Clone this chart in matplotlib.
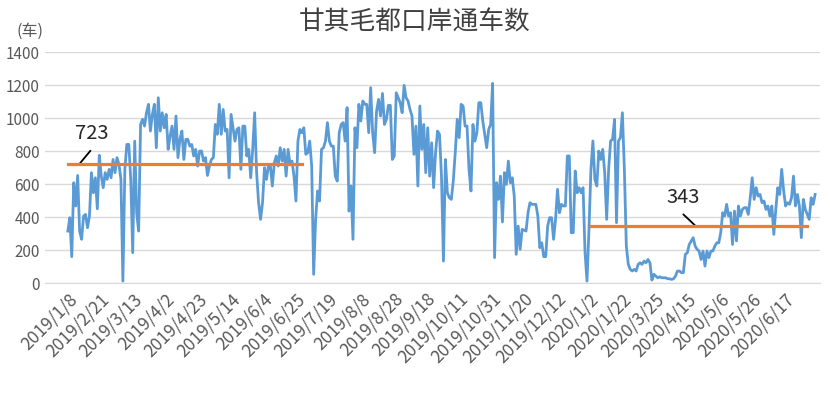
import numpy as np
import matplotlib
matplotlib.use('Agg')
import matplotlib.pyplot as plt

plt.rcParams['font.family'] = ['Noto Sans CJK SC', 'DejaVu Sans']

# 甘其毛都口岸每日通车数
cars_2019a = [315, 396, 160, 608, 467, 652, 315, 265, 406, 416,
              335, 406, 669, 547, 638, 450, 774, 648, 578, 669,
              628, 689, 638, 749, 669, 760, 719, 628, 12, 689,
              840, 840, 628, 184, 860, 426, 315, 961, 992, 951,
              1032, 1083, 921, 1022, 1083, 820, 1123, 921, 1032, 941,
              1022, 810, 891, 951, 810, 1012, 760, 871, 921, 749,
              871, 871, 830, 840, 770, 810, 709, 800, 800, 739,
              760, 652, 709, 749, 760, 961, 901, 1083, 901, 1052,
              921, 931, 638, 1022, 941, 860, 931, 941, 689, 951,
              951, 770, 810, 638, 810, 1032, 669, 487, 386, 487,
              699, 628, 709, 709, 588, 729, 770, 709, 820, 739,
              810, 648, 810, 719, 739, 648, 497, 860, 931]
cars_2019b = [911, 941, 780, 790, 860, 709, 53, 386, 558, 497,
              810, 820, 860, 972, 860, 830, 830, 648, 618, 911,
              961, 972, 860, 1063, 436, 588, 265, 941, 820, 1083,
              982, 1103, 1083, 1083, 911, 1184, 911, 790, 1042, 1113,
              1012, 1149, 961, 992, 1077, 1077, 749, 770, 1153, 1123,
              1093, 1032, 1198, 1123, 1103, 1052, 1012, 780, 951, 588,
              1073, 810, 961, 669, 941, 648, 850, 578, 790, 921,
              901, 648, 133, 749, 547, 517, 507, 618, 790, 992,
              881, 1083, 1073, 951, 951, 689, 558, 961, 860, 911,
              1093, 1093, 982, 901, 820, 931, 961, 1210, 154, 608,
              507, 648, 370, 669, 598, 739, 608, 638, 527, 174,
              345, 204, 325, 321, 315, 426, 487, 477, 477, 477,
              406, 214, 244]
cars_2020 = [160, 160, 345, 396, 396, 265, 386, 568, 426, 477,
             467, 467, 770, 770, 305, 305, 679, 547, 578, 547,
             578, 184, 12, 325, 689, 861, 628, 588, 800, 749,
             810, 669, 386, 689, 861, 871, 992, 366, 861, 881,
             1032, 689, 224, 113, 83, 73, 83, 73, 113, 123,
             113, 133, 123, 143, 123, 18, 53, 42, 32, 38,
             32, 32, 32, 26, 26, 22, 26, 42, 73, 73,
             63, 63, 174, 184, 234, 255, 275, 224, 204, 194,
             143, 194, 103, 194, 154, 194, 194, 224, 244, 244,
             305, 426, 406, 477, 406, 426, 234, 436, 255, 467,
             406, 446, 457, 457, 416, 517, 638, 507, 578, 527,
             537, 487, 497, 446, 467, 406, 467, 295, 446, 578,
             537, 689, 558, 467, 487, 477, 517, 648, 467, 537,
             467, 275, 507, 446, 416, 386, 517, 477, 537]

tick_labels = ['2019/1/8', '2019/2/21', '2019/3/13', '2019/4/2', '2019/4/23',
               '2019/5/14', '2019/6/4', '2019/6/25', '2019/7/19', '2019/8/8',
               '2019/8/28', '2019/9/18', '2019/10/11', '2019/10/31', '2019/11/20',
               '2019/12/12', '2020/1/2', '2020/1/22', '2020/3/25', '2020/4/15',
               '2020/5/6', '2020/5/26', '2020/6/17']

avg_values = [723, 343]

cars = cars_2019a + cars_2019b + cars_2020
n = len(cars)
x = np.arange(n)

blue = '#5B9BD5'
orange = '#ED7D31'
grey_txt = '#595959'

fig = plt.figure(figsize=(8.3, 3.97), dpi=100)
ax = fig.add_axes([0.054, 0.287, 0.934, 0.582])

ax.plot(x, cars, color=blue, lw=2.0, zorder=3)

# 平均线
start2 = len(cars_2019a) + len(cars_2019b) + 24
ax.plot([0, len(cars_2019a)], [avg_values[0]] * 2, color=orange, lw=2.3, zorder=4)
ax.plot([start2, n - 5], [avg_values[1]] * 2, color=orange, lw=2.3, zorder=4)

# 数据标签和引导线
ax.text(12, 905, str(avg_values[0]), ha='center', va='center', fontsize=14.5, color='#262626')
ax.annotate('', xy=(6, avg_values[0]), xytext=(11.5, 802),
            arrowprops=dict(arrowstyle='-', color='black', lw=1.3, shrinkA=0, shrinkB=0))
ax.text(313, 517, str(avg_values[1]), ha='center', va='center', fontsize=14.5, color='#262626')
ax.annotate('', xy=(319.5, avg_values[1]), xytext=(313, 416),
            arrowprops=dict(arrowstyle='-', color='black', lw=1.3, shrinkA=0, shrinkB=0))

ax.set_ylim(0, 1400)
ax.set_yticks(range(0, 1401, 200))
ax.set_xlim(-11.7, n - 1 + 2.5)
tick_pos = np.linspace(0, (n - 1) * 0.96, len(tick_labels))
ax.set_xticks(tick_pos)
ax.set_xticklabels(tick_labels, rotation=45, ha='right', rotation_mode='anchor')

ax.grid(axis='y', color='#D9D9D9', lw=1.0)
ax.set_axisbelow(True)
for s in ['top', 'right', 'left']:
    ax.spines[s].set_visible(False)
ax.spines['bottom'].set_color('#D9D9D9')
ax.tick_params(axis='y', length=0, labelsize=11, colors=grey_txt)
ax.tick_params(axis='x', length=0, labelsize=12.5, colors=grey_txt, pad=5)

fig.text(0.5, 0.943, '甘其毛都口岸通车数', ha='center', va='center', fontsize=18.5, color='#404040')
fig.text(0.036, 0.922, '(车)', ha='center', va='center', fontsize=11.5, color=grey_txt)

fig.savefig('out.png', dpi=100)
